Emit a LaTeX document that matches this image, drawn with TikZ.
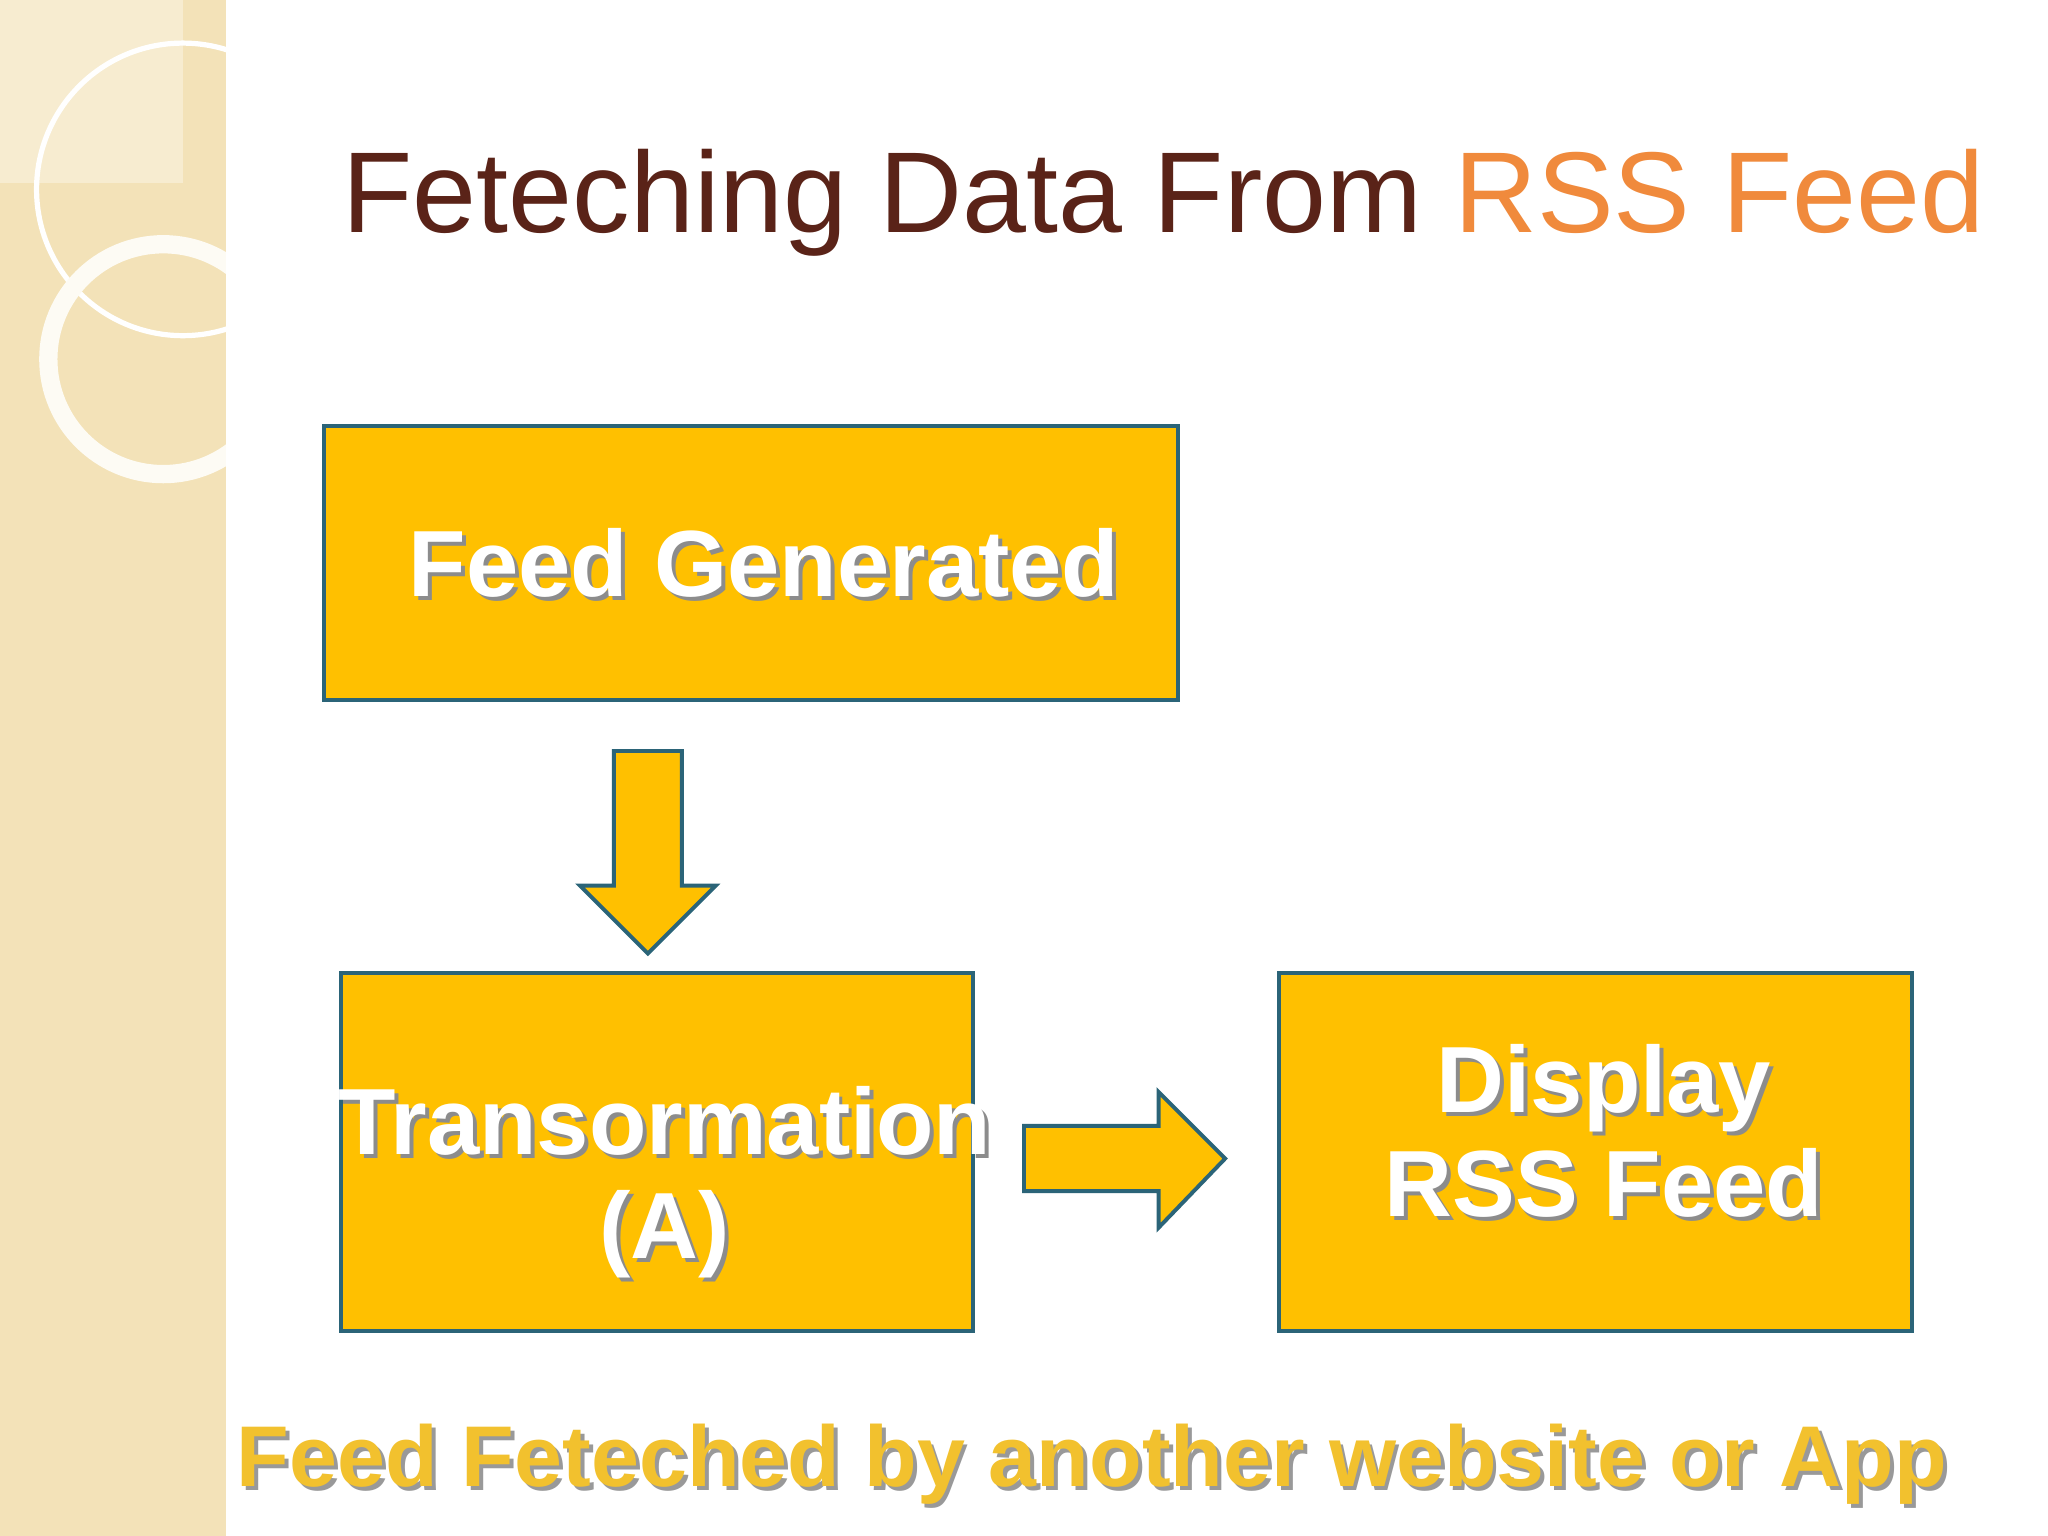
\documentclass[tikz,border=0pt]{standalone}
\usepackage{fontspec}
\usetikzlibrary{calc}
\setmainfont{Liberation Sans}
\definecolor{box}{HTML}{FFC000}
\definecolor{edge}{HTML}{2B6478}
\definecolor{strip}{HTML}{F3E2B8}
\definecolor{brown}{HTML}{5A2318}
\definecolor{orng}{HTML}{F08A3C}
\definecolor{gold}{HTML}{F2C12E}
\begin{document}
\begin{tikzpicture}[x=0.5pt,y=-0.5pt,
  blk/.style={draw=edge,line width=1.5pt,fill=box},
  btxt/.style={text=white,font=\fontsize{36}{40}\selectfont\bfseries,align=center},
  sh/.style={text=black!45,font=\fontsize{36}{40}\selectfont\bfseries,align=center}]
\useasboundingbox (0,0) rectangle (1568,1176);
\fill[white] (0,0) rectangle (1568,1176);
\fill[strip] (0,0) rectangle (173,1176);
\begin{scope}
\clip (0,0) rectangle (173,1176);
\fill[white,opacity=0.35] (0,0) rectangle (140,140);
\draw[white,line width=2pt] (140,145) circle (112);
\draw[white!85!strip,line width=7pt] (125,275) circle (88);
\end{scope}
\node[anchor=base west,inner sep=0,font=\fontsize{44}{48}\selectfont] (title) at (262,178)
  {\textcolor{brown}{Feteching Data From }\textcolor{orng}{RSS Feed}};
\draw[blk] (248,326) rectangle (902,536);
\draw[blk] (261,745) rectangle (745,1019);
\draw[blk] (979,745) rectangle (1464,1019);
\coordinate (fg) at (585,431);
\coordinate (tr) at (509,905);
\coordinate (ds) at (1228,866);
\node[sh] at ($(fg)+(3,3)$) {Feed Generated};
\node[btxt] (n1) at (fg) {Feed Generated};
\node[sh] at ($(tr)+(3,3)$) {Transormation\\(A)};
\node[btxt] (n2) at (tr) {Transormation\\(A)};
\node[sh] at ($(ds)+(3,3)$) {Display\\RSS Feed};
\node[btxt] (n3) at (ds) {Display\\RSS Feed};
\draw[blk,line join=miter] (470,575) -- (522,575) -- (522,678) -- (548,678) -- (496,730) -- (444,678) -- (470,678) -- cycle;
\draw[blk,line join=miter] (784,862) -- (887,862) -- (887,836) -- (938,887) -- (887,940) -- (887,912) -- (784,912) -- cycle;
\node[text=black!40,font=\fontsize{33}{36}\selectfont\bfseries] at (839,1124) {Feed Feteched by another website or App};
\node[text=gold,font=\fontsize{33}{36}\selectfont\bfseries] (bt) at (836,1121) {Feed Feteched by another website or App};
\end{tikzpicture}
\end{document}
